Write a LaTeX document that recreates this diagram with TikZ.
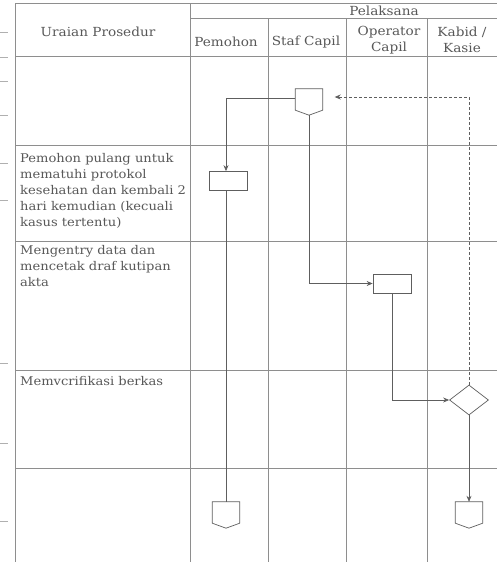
\documentclass[tikz,border=0pt]{standalone}
\usepackage{fontspec}
\setmainfont[FakeStretch=1.09]{DejaVu Serif}
\usetikzlibrary{arrows.meta,shapes.geometric,calc}
\definecolor{gridcol}{HTML}{8E8E8E}
\definecolor{shapecol}{HTML}{5E5E5E}
\definecolor{txtcol}{HTML}{585858}
\tikzset{
  grid/.style={draw=gridcol, line width=0.7pt},
  tick/.style={draw=gridcol!70, line width=0.6pt},
  flow/.style={draw=shapecol, line width=0.7pt},
  arr/.style={flow, -{Stealth[length=6pt,width=5pt]}},
  dasharr/.style={flow, dashed, dash pattern=on 3pt off 2pt, -{Stealth[length=6pt,width=5pt]}},
  procbox/.style={draw=shapecol, line width=0.7pt, fill=white, minimum width=38pt, minimum height=19pt, inner sep=0pt},
  decis/.style={diamond, draw=shapecol, line width=0.7pt, fill=white, minimum width=39pt, minimum height=30pt, inner sep=0pt, aspect=1.3},
  offpage/.style={minimum width=27pt, minimum height=26pt, inner sep=0pt,
    append after command={\pgfextra{\draw[flow, fill=white]
      (\tikzlastnode.north west) -- (\tikzlastnode.north east)
      -- ([yshift=5pt]\tikzlastnode.south east) -- (\tikzlastnode.south)
      -- ([yshift=5pt]\tikzlastnode.south west) -- cycle;}}},
  hdr/.style={text=txtcol, font=\fontsize{12.5}{16}\selectfont, align=center, inner sep=0pt},
  desc/.style={text=txtcol, font=\fontsize{12}{16}\selectfont, align=left, anchor=north west, inner sep=0pt}
}
\begin{document}
\begin{tikzpicture}[x=1pt,y=-1pt]
\useasboundingbox (0,0) rectangle (497,562);
% table
\draw[grid] (15,3) -- (497,3);
\draw[grid] (190,18) -- (497,18);
\draw[grid] (15,56) -- (497,56);
\foreach \yy in {145,241,370,468} \draw[grid] (15,\yy) -- (497,\yy);
\draw[grid] (15,3) -- (15,562);
\draw[grid] (190,3) -- (190,562);
\foreach \xx in {268,346,427} \draw[grid] (\xx,18) -- (\xx,562);
% margin ticks
\foreach \yy in {32,57,81,115,163,200,363,443,521} \draw[tick] (0,\yy) -- (8,\yy);
% header text
\node[hdr] (hpel) at (384,11) {Pelaksana};
\node[hdr] (hura) at (98,32) {Uraian Prosedur};
\node[hdr] (hpem) at (226,42) {Pemohon};
\node[hdr] (hsta) at (306,42) {Staf Capil};
\node[hdr] (hope) at (389,40) {Operator\\Capil};
\node[hdr] (hkab) at (462,40) {Kabid /\\Kasie};
% descriptions
\node[desc] (t2) at (20,153) {Pemohon pulang untuk\\mematuhi protokol\\kesehatan dan kembali 2\\hari kemudian (kecuali\\kasus tertentu)};
\node[desc] (t3) at (20,245) {Mengentry data dan\\mencetak draf kutipan\\akta};
\node[desc] (t4) at (20,376) {Memvcrifikasi berkas};
% shapes
\node[offpage] (s1) at (309,102) {};
\node[procbox] (p1) at (228,181) {};
\node[procbox] (o1) at (392,283.5) {};
\node[decis] (d1) at (469,400) {};
\node[offpage] (p2) at (226,515) {};
\node[offpage] (k2) at (469,515) {};
% connectors
\draw[arr] ([yshift=4pt]s1.west) -| ([xshift=-2pt]p1.north);
\draw[flow] ([xshift=-2pt]p1.south) -- (p2.north);
\draw[arr] (s1.south) |- (o1.west);
\draw[arr] (o1.south) |- (d1.west);
\draw[arr] (d1.south) -- (k2.north);
\draw[dasharr] (d1.north) |- ([xshift=12pt,yshift=5pt]s1.east);
\end{tikzpicture}
\end{document}
